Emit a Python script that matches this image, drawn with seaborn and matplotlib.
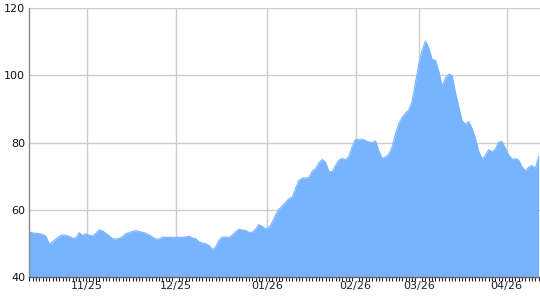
import matplotlib
matplotlib.use("Agg")
import matplotlib.pyplot as plt
import seaborn as sns
import numpy as np
import pandas as pd
from matplotlib.ticker import MultipleLocator, FixedLocator

values = [
    53.5, 53.1, 53.0, 52.9, 52.7, 52.1, 49.8, 50.5, 51.3, 52.1,
    52.5, 52.4, 52.1, 51.5, 51.6, 53.2, 52.4, 52.8, 52.4, 52.2,
    53.0, 54.0, 53.7, 53.0, 52.2, 51.4, 51.3, 51.5, 52.0, 52.9,
    53.2, 53.6, 53.8, 53.5, 53.3, 53.0, 52.5, 51.9, 51.3, 51.3,
    51.9, 51.8, 51.8, 51.8, 51.8, 51.8, 51.8, 52.0, 52.1, 51.6,
    51.4, 50.4, 50.1, 49.9, 49.4, 48.2, 49.0, 51.0, 51.9, 51.9,
    51.7, 52.5, 53.5, 54.2, 54.0, 53.8, 53.3, 53.3, 54.3, 55.6,
    55.0, 54.3, 54.8, 56.3, 58.5, 60.2, 61.2, 62.3, 63.3, 63.8,
    66.4, 68.8, 69.4, 69.5, 69.6, 71.5, 72.2, 74.0, 75.0, 74.1,
    71.3, 71.4, 73.2, 74.8, 75.3, 74.9, 76.0, 78.8, 81.0, 80.8,
    81.0, 80.6, 80.2, 80.0, 80.5, 77.5, 75.3, 75.7, 76.6, 78.8,
    82.7, 85.7, 87.5, 88.8, 89.8, 92.3, 97.9, 103.4, 107.5, 110.3,
    108.2, 104.8, 104.5, 101.2, 96.8, 99.3, 100.4, 100.0, 94.9, 90.6,
    86.6, 85.5, 86.3, 84.2, 81.3, 77.4, 75.2, 76.2, 77.9, 77.2,
    78.1, 80.2, 80.3, 78.3, 76.3, 75.1, 75.2, 74.8, 72.8, 71.6,
    72.7, 73.2, 72.3, 75.9,
]
month_labels = ["11/25", "12/25", "01/26", "02/26", "03/26", "04/26"]
month_positions = [17.4, 44.0, 71.5, 98.0, 117.0, 143.4]
y_ticks = [40, 60, 80, 100, 120]

df = pd.DataFrame({"idx": np.arange(len(values)), "value": values})

sns.set_theme(style="white")
plt.rcParams["font.family"] = ["DejaVu Sans"]

fig = plt.figure(figsize=(5.4, 3.0), dpi=100)
ax = fig.add_axes([29.3 / 540, 23 / 300, 1 - 29.3 / 540, (277 - 8.3) / 300])

fill_color = "#78b3ff"
ax.fill_between(df["idx"], df["value"], 40, color=fill_color, linewidth=0, zorder=2)
sns.lineplot(data=df, x="idx", y="value", ax=ax, color=fill_color, linewidth=0.8, zorder=3)

ax.set_xlim(0, len(values) - 0.6)
ax.set_ylim(40, 120)
ax.set_yticks(y_ticks)
ax.set_yticklabels([str(v) for v in y_ticks])
ax.xaxis.set_major_locator(FixedLocator(month_positions))
ax.set_xticklabels(month_labels)
ax.xaxis.set_minor_locator(MultipleLocator(1))

ax.grid(True, which="major", color="#cccccc", linewidth=1.0, zorder=0)
ax.set_axisbelow(True)

ax.tick_params(axis="x", which="major", length=0, pad=3, labelsize=8, labelcolor="#1a2040")
ax.tick_params(axis="x", which="minor", length=3, width=0.8, color="#222222", bottom=True, direction="out")
ax.tick_params(axis="y", which="both", length=0, pad=3, labelsize=8, labelcolor="#111111")

for s in ["top", "right"]:
    ax.spines[s].set_visible(False)
ax.spines["left"].set_color("#888888")
ax.spines["left"].set_linewidth(1.0)
ax.spines["bottom"].set_color("#666666")
ax.spines["bottom"].set_linewidth(1.0)
ax.set_xlabel("")
ax.set_ylabel("")

fig.savefig("out.png", dpi=100)
